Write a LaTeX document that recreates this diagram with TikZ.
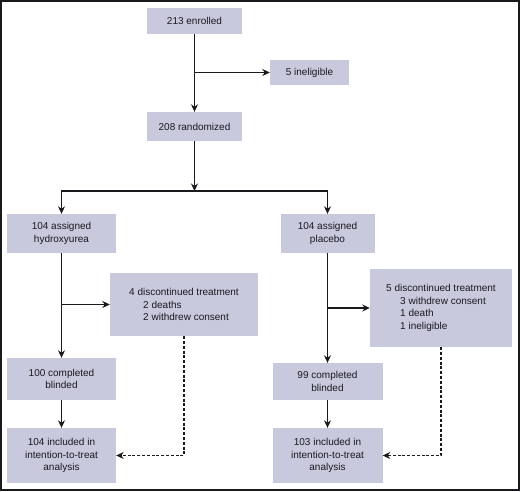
\documentclass[tikz,border=0pt]{standalone}
\usepackage{fontspec}
\setmainfont{Liberation Sans}
\usetikzlibrary{arrows.meta}
\definecolor{boxfill}{RGB}{200,201,221}
\definecolor{ink}{RGB}{25,25,30}
\begin{document}
\begin{tikzpicture}[x=1pt,y=-1pt,
  box/.style={fill=boxfill, inner sep=0pt, text=ink, font=\fontsize{10}{12.5}\selectfont, align=center},
  arr/.style={-{Stealth[length=7.5pt,width=7pt]}, line width=1.3pt, draw=ink},
  darr/.style={-{Stealth[length=7.5pt,width=7pt]}, line width=1.1pt, draw=ink, dash pattern=on 3pt off 1.8pt}
]
\useasboundingbox (0,0) rectangle (520,491);
\draw[line width=2pt, draw=ink] (1,1) rectangle (519,490);

\node[box, minimum width=95pt, minimum height=26pt] (enr) at (194.5,21) {213 enrolled};
\node[box, minimum width=79pt, minimum height=25pt] (inel) at (309.5,72.5) {5 ineligible};
\node[box, minimum width=95pt, minimum height=29pt] (rand) at (194.5,126.5) {208 randomized};
\node[box, minimum width=109pt, minimum height=39pt] (hu) at (61.5,233.5) {104 assigned\\hydroxyurea};
\node[box, minimum width=94pt, minimum height=39pt] (pl) at (327.5,233.5) {104 assigned\\placebo};
\node[box, minimum width=148pt, minimum height=63pt, align=left] (disc1) at (184,304.5) {4 discontinued treatment\\\hspace*{14pt}2 deaths\\\hspace*{14pt}2 withdrew consent};
\node[box, minimum width=142pt, minimum height=78pt, align=left] (disc2) at (441,308) {5 discontinued treatment\\\hspace*{14pt}3 withdrew consent\\\hspace*{14pt}1 death\\\hspace*{14pt}1 ineligible};
\node[box, minimum width=109pt, minimum height=42pt] (comp1) at (61.5,379) {100 completed\\blinded};
\node[box, minimum width=110pt, minimum height=37pt] (comp2) at (327.5,381.5) {99 completed\\blinded};
\node[box, minimum width=109pt, minimum height=55pt] (itt1) at (61.5,455.5) {104 included in\\intention-to-treat\\analysis};
\node[box, minimum width=110pt, minimum height=55pt] (itt2) at (327.5,455.5) {103 included in\\intention-to-treat\\analysis};

\coordinate (b0) at (enr.south |- inel.west);
\coordinate (split) at (194.5,191);
\coordinate (b1) at (hu.south |- disc1.west);
\coordinate (b2) at (pl.south |- disc2.west);

\draw[arr] (enr.south) -- (rand.north);
\draw[arr] (b0) -- (inel.west);
\draw[arr] (rand.south) -- (split);
\draw[arr] (split) -| (hu.north);
\draw[arr] (split) -| (pl.north);
\draw[arr] (hu.south) -- (comp1.north);
\draw[arr] (b1) -- (disc1.west);
\draw[arr] (pl.south) -- (comp2.north);
\draw[arr] (b2) -- (disc2.west);
\draw[arr] (comp1.south) -- (itt1.north);
\draw[arr] (comp2.south) -- (itt2.north);
\draw[darr] (disc1.south) |- (itt1.east);
\draw[darr] (disc2.south) |- (itt2.east);
\end{tikzpicture}
\end{document}
